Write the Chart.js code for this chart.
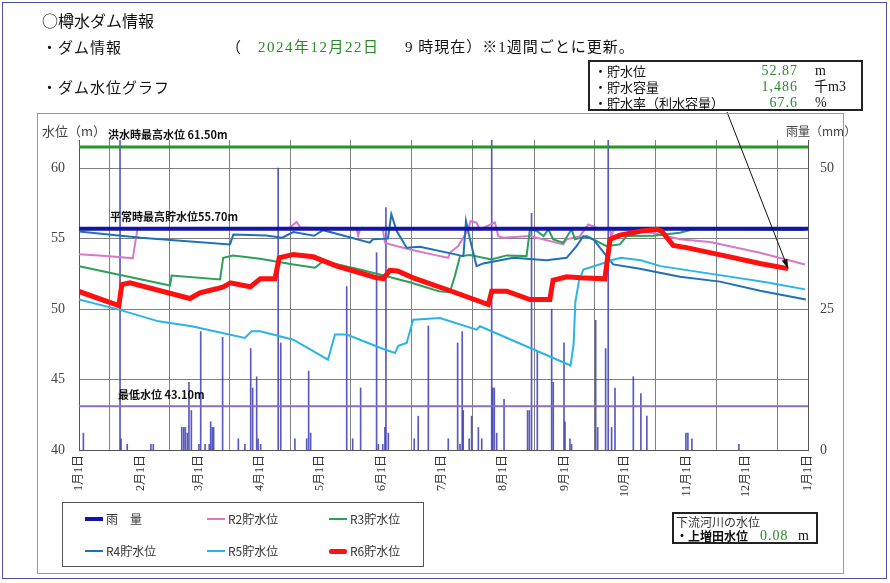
<!DOCTYPE html>
<html lang="ja">
<head>
<meta charset="UTF-8">
<title>樽水ダム情報</title>
<style>
  body { margin: 0; background: #fff; font-family: "Noto Sans CJK JP", sans-serif; }
  #page { position: relative; width: 890px; height: 583px; overflow: hidden; }
  #chart { position: absolute; left: 0; top: 0; }
  .t { position: absolute; white-space: nowrap; color: #111; }
  .serif { font-family: "Liberation Serif", "Noto Sans CJK JP", serif; }
  .green { color: #2a8a2a; }
  .box { position: absolute; box-sizing: border-box; }
  .sw { position: absolute; width: 18px; }
</style>
<script src="https://cdn.jsdelivr.net/npm/chart.js"></script>
</head>
<body>
<div id="page">
  <canvas id="chart" width="890" height="583"></canvas>

  <div class="box" style="left:2px;top:2px;width:885px;height:577px;border:1px solid #5050a8;"></div>
  <div class="box" style="left:37px;top:113px;width:807px;height:461px;border:1px solid #999;"></div>

  <div class="t" style="left:42px;top:11px;font-size:16px;line-height:18px;">○樽水ダム情報</div>
  <div class="t" style="left:42px;top:38px;font-size:15px;line-height:18px;letter-spacing:1px;">・ダム情報</div>
  <div class="t" style="left:226px;top:38px;font-size:15px;line-height:18px;">（</div>
  <div class="t serif green" style="left:258px;top:38px;font-size:15px;line-height:18px;letter-spacing:1.5px;">2024年12月22日</div>
  <div class="t serif" style="left:405px;top:38px;font-size:15px;line-height:18px;letter-spacing:1px;">9 時現在）※1週間ごとに更新。</div>
  <div class="t" style="left:42px;top:78px;font-size:15px;line-height:18px;letter-spacing:1px;">・ダム水位グラフ</div>

  <div class="box" style="left:588px;top:60px;width:275px;height:51px;border:2px solid #222;background:#fff;"></div>
  <div class="t" style="left:594px;top:63px;font-size:13px;line-height:16px;">・貯水位</div>
  <div class="t" style="left:594px;top:79px;font-size:13px;line-height:16px;">・貯水容量</div>
  <div class="t" style="left:594px;top:95px;font-size:13px;line-height:16px;">・貯水率（利水容量）</div>
  <div class="t serif green" style="right:92px;top:63px;font-size:14px;line-height:16px;letter-spacing:1px;">52.87</div>
  <div class="t serif green" style="right:92px;top:79px;font-size:14px;line-height:16px;letter-spacing:1px;">1,486</div>
  <div class="t serif green" style="right:92px;top:95px;font-size:14px;line-height:16px;letter-spacing:1px;">67.6</div>
  <div class="t serif" style="left:815px;top:63px;font-size:14px;line-height:16px;">m</div>
  <div class="t serif" style="left:814px;top:79px;font-size:14px;line-height:16px;">千m3</div>
  <div class="t serif" style="left:815px;top:95px;font-size:14px;line-height:16px;">%</div>

  <div class="t" style="left:42px;top:123px;font-size:13px;line-height:16px;color:#444;">水位（m）</div>
  <div class="t" style="left:786px;top:123px;font-size:12px;line-height:16px;color:#444;">雨量（mm）</div>

  <div class="box" style="left:62px;top:502px;width:362px;height:65px;border:1px solid #555;"></div>
  <div class="sw" style="left:85px;top:517px;height:4px;background:#1414a8;"></div>
  <div class="t" style="left:106px;top:511px;font-size:12px;line-height:16px;color:#333;">雨　量</div>
  <div class="sw" style="left:207px;top:518px;height:2px;background:#d878c8;"></div>
  <div class="t" style="left:228px;top:511px;font-size:12px;line-height:16px;color:#333;">R2貯水位</div>
  <div class="sw" style="left:329px;top:518px;height:2px;background:#2ca05a;"></div>
  <div class="t" style="left:350px;top:511px;font-size:12px;line-height:16px;color:#333;">R3貯水位</div>
  <div class="sw" style="left:85px;top:550px;height:2px;background:#2070b8;"></div>
  <div class="t" style="left:106px;top:543px;font-size:12px;line-height:16px;color:#333;">R4貯水位</div>
  <div class="sw" style="left:207px;top:550px;height:2px;background:#2ab4e6;"></div>
  <div class="t" style="left:228px;top:543px;font-size:12px;line-height:16px;color:#333;">R5貯水位</div>
  <div class="sw" style="left:329px;top:549px;height:5px;background:#ff1010;border-radius:2px;"></div>
  <div class="t" style="left:350px;top:543px;font-size:12px;line-height:16px;color:#333;">R6貯水位</div>

  <div class="box" style="left:672px;top:512px;width:146px;height:32px;border:2px solid #222;background:#fff;"></div>
  <div class="t" style="left:676px;top:514px;font-size:12px;line-height:15px;color:#333;">下流河川の水位</div>
  <div class="t" style="left:676px;top:528px;font-size:12px;line-height:15px;font-weight:bold;">・上増田水位</div>
  <div class="t serif green" style="left:760px;top:528px;font-size:14px;line-height:15px;letter-spacing:1px;">0.08</div>
  <div class="t serif" style="left:798px;top:528px;font-size:14px;line-height:15px;">m</div>
</div>

<script>
// x = day of year (2024, leap year), y = water level (m) / rainfall (mm)
const monthDays = [0, 31, 60, 91, 121, 152, 182, 213, 244, 274, 305, 335, 366];
const monthLabels = ['1月1日', '2月1日', '3月1日', '4月1日', '5月1日', '6月1日', '7月1日',
    '8月1日', '9月1日', '10月1日', '11月1日', '12月1日', '1月1日'];
const levelTicks = [40, 45, 50, 55, 60];
const rainTicks = [0, 25, 50];

const rainDays = [2.2, 20.6, 21.1, 24.2, 36.1, 37.3, 51.6, 52.6, 53.4, 54.4, 55.2, 56.4, 60.2, 61.1, 63.3,
    65.4, 66.1, 66.9, 67.6, 72.1, 80, 83.3, 86.2, 87.2, 89.2, 89.9, 91.2, 100, 101.3, 108.4, 114.3, 115.3,
    116.3, 134.4, 137.4, 141.4, 149.4, 150.3, 152.5, 153.6, 154.1, 155.3, 168.3, 170.3, 175.4, 185.4,
    190.1, 191.3, 192.4, 192.9, 195.9, 197.1, 200.5, 202.2, 207.2, 207.7, 208.5, 209.7, 213.4, 225.2,
    226.1, 227.2, 230.1, 237.3, 238.1, 243.5, 244, 246.5, 247.3, 259.4, 260.4, 264.4, 265.7, 267.4,
    269.1, 278.3, 282.1, 285.1, 304.7, 305.7, 307.7, 331.3];
const rainMm = [3, 58, 2, 1, 1, 1, 4, 4, 4, 3, 12, 7, 1, 21, 1,
    1, 5, 4, 4, 20, 2, 1, 18, 11, 13, 2, 1, 50, 19, 2, 2, 14,
    3, 29, 2, 11, 35, 1, 1, 4, 43, 3, 2, 6, 22, 2,
    19, 1, 21, 7, 2, 6, 4, 2, 58, 11, 11, 3, 9, 7,
    7, 42, 17.5, 25, 12, 19, 5, 2, 1, 23, 4, 18, 58, 4,
    11, 13, 10, 6, 3, 3, 2, 1];

const r2Days = [0, 10, 20, 27, 29.3, 35, 50, 70, 90, 105, 109.3, 111, 125, 139.4, 140.2, 141, 152.5, 153.6,
    156, 166.2, 181.2, 185.4, 186.2, 190.4, 195.4, 196.6, 199.6, 201.3, 208.8, 210.5, 213, 226.4, 243.1,
    244.8, 251.5, 255.7, 259.9, 266.6, 267.3, 268.2, 281.6, 291.7, 301.7, 316.8, 341.9, 364.5];
const r2Level = [53.9, 53.8, 53.7, 53.6, 55.66, 55.72, 55.68, 55.66, 55.7, 55.72, 56.18, 55.8, 55.7, 55.71, 55.2, 55.7, 55.68, 54.73,
    54.6, 54.23, 53.76, 53.64, 54.0, 54.47, 55.66, 56.25, 56.13, 55.66, 56.15, 55.18, 55.07, 55.18, 54.59,
    54.95, 55.18, 56.01, 55.78, 55.66, 54.9, 55.66, 55.6, 55.3, 54.95, 54.76, 54.0, 53.17];

const r3Days = [0, 45.7, 46.5, 70.8, 72.4, 77.3, 91, 107.6, 118.5, 122.6, 141, 151, 166, 180.7, 186.2, 188.7,
    191.3, 196.3, 207, 214.7, 224.7, 226.4, 229.8, 233.2, 235.7, 238.1, 243.1, 247.3, 249, 254.9, 264.9,
    271.6, 274.9, 288.3, 301.7, 308.4, 364.5];
const r3Level = [53.05, 51.67, 52.38, 52.1, 53.64, 53.81, 53.57, 53.17, 52.93, 53.4, 52.81, 52.46, 51.91, 51.27, 51.2, 52.34,
    53.76, 53.83, 53.52, 53.81, 53.76, 55.66, 55.54, 55.18, 55.66, 54.95, 54.71, 55.66, 54.95, 55.18, 54.47,
    54.59, 55.18, 55.2, 55.42, 55.66, 55.62];

const r4Days = [0, 31, 75.8, 77.5, 94, 102, 107.6, 118, 122.6, 146, 147.6, 155.1, 156.8, 159.5, 164.5, 171.2,
    193, 194.3, 196.3, 199.6, 203, 218, 234.8, 244.8, 249.8, 253.2, 258.2, 268.2, 281.6, 301.7, 321.8,
    341.9, 364.9];
const r4Level = [55.5, 55.07, 54.59, 55.3, 55.23, 55.07, 55.47, 55.2, 55.6, 54.71, 54.95, 55.0, 56.73, 55.54, 54.36, 54.43,
    53.76, 56.25, 54.95, 53.05, 53.24, 53.64, 53.47, 53.64, 54.47, 55.18, 54.95, 53.17, 52.86, 52.3, 51.95,
    51.3, 50.68];

const r5Days = [0, 20, 40, 56.6, 83.3, 86.6, 91, 107.6, 125, 128.5, 134.4, 152.8, 158.6, 160.3, 164.5, 167.8,
    181.2, 199.6, 201.3, 246.8, 248.3, 249.2, 251, 253.2, 264, 268, 272, 282, 292, 325, 345, 364.5];
const r5Level = [50.68, 49.96, 49.13, 48.78, 47.95, 48.42, 48.42, 47.83, 46.41, 48.19, 48.19, 47.17, 46.88, 47.4, 47.59, 49.25,
    49.37, 48.54, 48.78, 46.0, 47.5, 50.5, 52.0, 52.8, 53.29, 53.5, 53.65, 53.47, 53.05, 52.34, 51.9, 51.4];

const r6Days = [0, 20, 21.5, 25.6, 55.7, 60.7, 69, 72.5, 76, 86, 91, 98.4, 100.5, 107.6, 117.6, 129.4, 141,
    149.4, 152.8, 156, 160, 167.8, 184.6, 205.5, 207.2, 214.7, 226.4, 236.4, 238, 244.8, 251.5, 264,
    266.6, 271.6, 282.5, 290, 292.5, 298.3, 305, 325, 341.9, 356];
const r6Level = [51.25, 50.25, 51.74, 51.86, 50.75, 51.15, 51.44, 51.58, 51.86, 51.58, 52.15, 52.15, 53.64, 53.88, 53.71, 53.05, 52.58,
    52.22, 52.17, 52.75, 52.7, 52.22, 51.39, 50.32, 51.27, 51.27, 50.68, 50.68, 52.05, 52.29, 52.22, 52.15,
    54.95, 55.25, 55.54, 55.66, 55.54, 54.52, 54.36, 53.76, 53.24, 52.87];

const refLevels = [61.5, 55.7, 43.1];
const refLabels = ['洪水時最高水位 61.50m', '平常時最高貯水位55.70m', '最低水位 43.10m'];
const refColors = ['#25962a', '#1414a8', '#8a70b8'];
const refWidths = [3, 4, 2];

function pts(xs, ys) { return xs.map((v, i) => ({ x: v, y: ys[i] })); }

function levelLine(label, xs, ys, color, width, order) {
    return { type: 'line', label, data: pts(xs, ys), borderColor: color, borderWidth: width,
        pointRadius: 0, tension: 0, yAxisID: 'y', order };
}

const datasets = [
    { type: 'bar', label: '雨量', data: pts(rainDays, rainMm), yAxisID: 'y2',
      backgroundColor: 'rgba(60,60,180,0.85)', barThickness: 1, order: 20 },
    levelLine('R2貯水位', r2Days, r2Level, '#d878c8', 2, 6),
    levelLine('R3貯水位', r3Days, r3Level, '#2ca05a', 2, 5),
    levelLine('R4貯水位', r4Days, r4Level, '#2070b8', 2, 4),
    levelLine('R5貯水位', r5Days, r5Level, '#2ab4e6', 2, 3),
    levelLine('R6貯水位', r6Days, r6Level, '#ff1010', 5, 0)
];
refLevels.forEach((v, i) => {
    datasets.push({ type: 'line', label: refLabels[i], data: [{ x: 0, y: v }, { x: 366, y: v }],
        borderColor: refColors[i], borderWidth: refWidths[i], pointRadius: 0, yAxisID: 'y',
        order: i === 1 ? 2 : 10 });
});

const overlay = {
    id: 'overlay',
    afterDatasetsDraw(chart) {
        const { ctx, chartArea, scales: { x, y } } = chart;
        ctx.save();
        ctx.font = 'bold 11px "Noto Sans CJK JP"';
        ctx.fillStyle = '#111';
        ctx.textBaseline = 'middle';
        const offs = [29, 31, 39];
        refLevels.forEach((v, i) => {
            ctx.fillText(refLabels[i], chartArea.left + offs[i], y.getPixelForValue(v) - 12);
        });
        // arrow from info box to latest R6 level
        const n = r6Days.length - 1;
        const ex = x.getPixelForValue(r6Days[n]), ey = y.getPixelForValue(r6Level[n]);
        const sx = 727, sy = 112;
        const ang = Math.atan2(ey - sy, ex - sx);
        ctx.strokeStyle = '#111';
        ctx.fillStyle = '#111';
        ctx.lineWidth = 1;
        ctx.beginPath(); ctx.moveTo(sx, sy); ctx.lineTo(ex, ey); ctx.stroke();
        ctx.beginPath();
        ctx.moveTo(ex, ey);
        ctx.lineTo(ex - 10 * Math.cos(ang - 0.3), ey - 10 * Math.sin(ang - 0.3));
        ctx.lineTo(ex - 10 * Math.cos(ang + 0.3), ey - 10 * Math.sin(ang + 0.3));
        ctx.closePath(); ctx.fill();
        ctx.restore();
    }
};

const serif = '"Liberation Serif", "Noto Sans CJK JP", serif';

new Chart(document.getElementById('chart'), {
    data: { datasets },
    plugins: [overlay],
    options: {
        responsive: false,
        animation: false,
        devicePixelRatio: 1,
        layout: { padding: { left: 37, right: 47, top: 140, bottom: 83 } },
        plugins: { legend: { display: false }, tooltip: { enabled: false } },
        scales: {
            x: {
                type: 'linear', min: 0, max: 366, offset: false,
                afterBuildTicks: a => { a.ticks = monthDays.map(v => ({ value: v })); },
                afterFit: a => { a.height = 50; },
                grid: { color: '#808080', drawTicks: false },
                border: { color: '#555' },
                ticks: { autoSkip: false, minRotation: 90, maxRotation: 90, padding: 5, color: '#333',
                    font: { family: serif, size: 12 },
                    callback: (v, i) => monthLabels[i] }
            },
            y: {
                position: 'left', min: 40, max: 62,
                afterBuildTicks: a => { a.ticks = levelTicks.map(v => ({ value: v })); },
                afterFit: a => { a.width = 42; },
                grid: { color: '#808080', drawTicks: false },
                border: { color: '#555' },
                ticks: { padding: 14, color: '#444', font: { family: serif, size: 14 } }
            },
            y2: {
                position: 'right', min: 0, max: 55,
                afterBuildTicks: a => { a.ticks = rainTicks.map(v => ({ value: v })); },
                afterFit: a => { a.width = 35; },
                grid: { display: false, drawTicks: false },
                border: { color: '#555' },
                ticks: { padding: 12, color: '#444', font: { family: serif, size: 14 } }
            }
        }
    }
});
</script>
</body>
</html>
